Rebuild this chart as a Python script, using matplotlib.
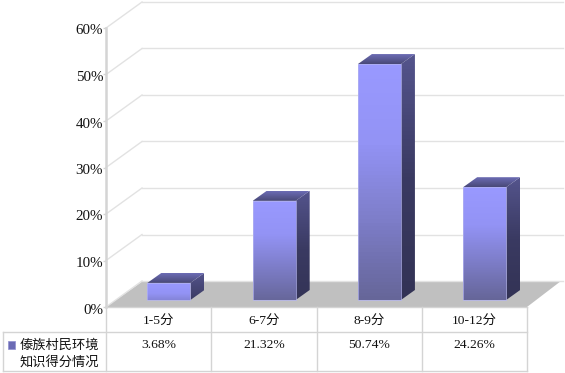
#!/usr/bin/env python3
"""3D-look column chart with a data table, drawn on flat axes."""
import matplotlib
matplotlib.use("Agg")
import matplotlib.pyplot as plt
import numpy as np
from matplotlib.colors import LinearSegmentedColormap
from matplotlib.patches import Polygon, Rectangle
from matplotlib.transforms import ScaledTranslation

categories = ["1-5分", "6-7分", "8-9分", "10-12分"]
values = [3.68, 21.32, 50.74, 24.26]
value_labels = ["3.68%", "21.32%", "50.74%", "24.26%"]
y_ticks = [0, 10, 20, 30, 40, 50, 60]
y_tick_labels = ["0%", "10%", "20%", "30%", "40%", "50%", "60%"]
series_name = "傣族村民环境\n知识得分情况"

W, H = 565, 373
FONT = ["Liberation Serif", "Noto Sans CJK SC"]
GRID = "#e2e2e2"; LINE = "#d4d4d4"; FLOOR = "#c0c0c0"; INK = "#111111"
plt.rcParams["font.family"] = FONT

# pixel frame of the front plane, everything else hangs off it
L, R, Y0, Y60 = 106, 527, 307, 28
XS = (R - L) / 4          # px per category
YS = (Y0 - Y60) / 60      # px per percent

fig = plt.figure(figsize=(W / 100, H / 100), dpi=100, facecolor="white")

# background layer in plain pixels: floor and table grid
bg = fig.add_axes([0, 0, 1, 1], zorder=0)
bg.set_xlim(0, W); bg.set_ylim(H, 0); bg.axis("off")
bg.add_patch(Polygon([(L, Y0), (R, Y0), (561, 281), (143, 281)], fc=FLOOR, ec="none"))
for x in [L + XS * i for i in range(5)]:
    bg.plot([x, x], [Y0, 371], color=LINE, lw=1)
bg.plot([3, 3], [332, 371], color=LINE, lw=1)
bg.plot([L, R], [Y0, Y0], color=LINE, lw=1)
bg.plot([3, R], [332, 332], color=LINE, lw=1)
bg.plot([3, R], [371, 371], color=LINE, lw=1)
bg.add_patch(Rectangle((8, 341), 7, 8, fc="#6a6ab4", ec="#8f8fd0", lw=0.5))
bg.text(20, 354, series_name, fontsize=9.5, color=INK, ha="left", va="center", linespacing=1.42)

# data layer, x in categories and y in percent
ax = fig.add_axes([L / W, 1 - Y0 / H, (R - L) / W, (Y0 - Y60) / H], zorder=1)
ax.patch.set_visible(False)

WALL_X, WALL_Y = 36 / XS, 26 / YS      # wall depth
BAR_OFF_X, BAR_OFF_Y = 10.3 / XS, 7 / YS  # bars stand inside the floor
DX, DY = 14 / XS, 10 / YS              # bar depth
BW = 43 / XS

for t in y_ticks:
    ax.plot([0, WALL_X], [t, t + WALL_Y], color=GRID, lw=1, clip_on=False, zorder=1)
    ax.plot([WALL_X, (563 - L) / XS], [t + WALL_Y, t + WALL_Y], color=GRID, lw=1, clip_on=False, zorder=1)

front = LinearSegmentedColormap.from_list("front", ["#9999ff", "#9393f5", "#7d7dc8", "#666699"])
side = LinearSegmentedColormap.from_list("side", ["#54548c", "#3a3a62", "#333355"])
top = LinearSegmentedColormap.from_list("top", ["#6c6cb4", "#494978"])


def shade(poly, cmap, x0, x1, y0, y1, lo=0.0, hi=1.0):
    patch = Polygon(poly, fc="none", ec="none", clip_on=False, zorder=3)
    ax.add_patch(patch)
    grad = np.linspace(lo, hi, 64)[:, None]
    im = ax.imshow(grad, cmap=cmap, vmin=0, vmax=1, extent=[x0, x1, y0, y1], origin="upper",
                   aspect="auto", zorder=3, clip_on=True)
    im.set_clip_path(patch)


for i, v in enumerate(values):
    x0 = i + 0.5 - BW / 2 + BAR_OFF_X
    x1 = x0 + BW
    y0 = BAR_OFF_Y
    y1 = v + BAR_OFF_Y
    # short bars stop part way down the same ramp
    shade([(x0, y0), (x1, y0), (x1, y1), (x0, y1)], front, x0, x1, y0, y1, hi=min(1.0, 0.45 + v / 40))
    shade([(x1, y0), (x1 + DX, y0 + DY), (x1 + DX, y1 + DY), (x1, y1)], side, x1, x1 + DX, y0, y1 + DY,
          hi=min(1.0, 0.4 + v / 40))
    shade([(x0, y1), (x1, y1), (x1 + DX, y1 + DY), (x0 + DX, y1 + DY)], top, x0, x1 + DX, y1, y1 + DY)
    ax.plot([x0, x1, x1, x0, x0], [y1, y1, y0, y0, y1], color="#b4b4f0", lw=0.5, zorder=4, clip_on=False)

ax.set_xlim(0, 4); ax.set_ylim(0, 60)
ax.set_yticks(y_ticks); ax.set_yticklabels(y_tick_labels, fontsize=10.8, color=INK)
ax.tick_params(axis="y", length=2, width=1, color=LINE, pad=0)
# tick labels sit a touch lower than the ticks themselves
nudge = ScaledTranslation(0, -1.5 / 100, fig.dpi_scale_trans)
for lab in ax.get_yticklabels():
    lab.set_transform(lab.get_transform() + nudge)
ax.set_xticks([i + 0.5 for i in range(4)]); ax.set_xticklabels(categories, fontsize=9.7, color=INK)
ax.tick_params(axis="x", length=0, pad=6)
for sp in ["top", "right", "bottom"]:
    ax.spines[sp].set_visible(False)
ax.spines["left"].set_color(LINE); ax.spines["left"].set_linewidth(1.8)

# value row of the data table
for i, s in enumerate(value_labels):
    ax.annotate(s, (i + 0.5, 0), xytext=(0, -38.5 * 0.72), textcoords="offset points",
                ha="center", va="center", fontsize=9.7, color=INK, annotation_clip=False)

fig.savefig("out.png", dpi=100, facecolor="white")
